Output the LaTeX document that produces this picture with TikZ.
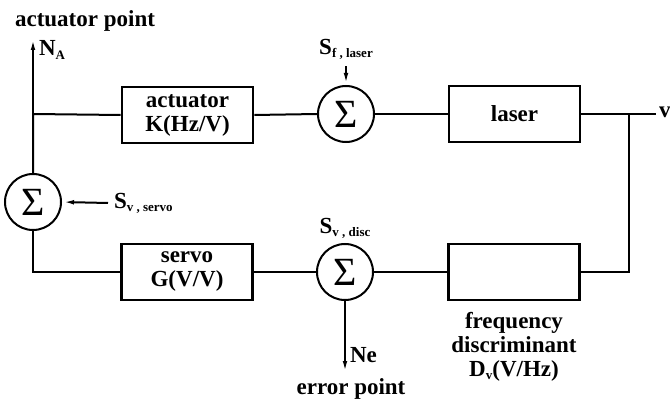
\documentclass[tikz,border=0pt]{standalone}
\usepackage{fontspec}
\setmainfont{Liberation Serif}
\usetikzlibrary{arrows.meta}
\newcommand{\sublbl}[2]{#1\raisebox{-0.3ex}{\fontsize{13}{13}\selectfont #2}}

\begin{document}
\begin{tikzpicture}[x=1pt, y=-1pt, >={Latex[length=12pt,width=4.5pt]}, line width=2pt,
    blk/.style={draw, line width=2.8pt, minimum width=131pt, minimum height=56pt, align=center},
    sumnode/.style={draw, circle, line width=2pt, minimum size=56pt, inner sep=0pt, font=\fontsize{40}{40}\selectfont},
    lbl/.style={font=\fontsize{23}{24}\selectfont\bfseries, inner sep=0pt}]
    \useasboundingbox (0,0) rectangle (670,401);

    % Blocks and summing points
    \node[blk, lbl] (act) at (187.5,115) {actuator\\K(Hz/V)};
    \node[sumnode] (sumlas) at (346,114) {Σ};
    \node[blk, lbl] (las) at (514.5,114) {laser};
    \node[blk] (disc) at (514,272) {};
    \node[sumnode] (sumdisc) at (345,272) {Σ};
    \node[blk, lbl] (servo) at (187,272) {servo\\G(V/V)};
    \node[sumnode] (sumservo) at (33,202) {Σ};

    % Branch points
    \coordinate (actpt) at (33,38);
    \coordinate (jleft) at (33,114);
    \coordinate (jright) at (629,114);
    \coordinate (vout) at (656,114);
    \coordinate (errpt) at (345,373);

    % Loop
    \draw (sumservo.north) -- (jleft) -- (act.west);
    \draw (act.east) -- (sumlas.west);
    \draw (sumlas.east) -- (las.west);
    \draw (las.east) -- (vout);
    \draw (jright) |- (disc.east);
    \draw (disc.west) -- (sumdisc.east);
    \draw (sumdisc.west) -- (servo.east);
    \draw (servo.west) -| (sumservo.south);
    \draw[->] (jleft) -- (actpt);
    \draw[->] (sumdisc.south) -- (errpt);

    % Labels
    \node[lbl] (actlbl) at (85,21) {actuator point};
    \node[lbl, anchor=west] (na) at (38,50) {\sublbl{N}{A}};
    \node[lbl] (sflas) at (346,49) {\sublbl{S}{f , laser}};
    \draw[->] ([yshift=-6pt]sflas.south) -- (sumlas.north);
    \node[lbl, anchor=west] (svservo) at (113,203) {\sublbl{S}{v , servo}};
    \draw[->] ([xshift=-5pt]svservo.west) -- (sumservo.east);
    \node[lbl] (svdisc) at (345,228) {\sublbl{S}{v , disc}};
    \node[lbl, anchor=west] (ne) at (349,355) {Ne};
    \node[lbl] (errlbl) at (351,389) {error point};
    \node[lbl, align=center, anchor=north] (disclbl) at (514,311) {frequency\\discriminant\\\sublbl{D}{v}(V/Hz)};
    \node[lbl, anchor=west] (vlbl) at (658,112) {v};
\end{tikzpicture}
\end{document}
